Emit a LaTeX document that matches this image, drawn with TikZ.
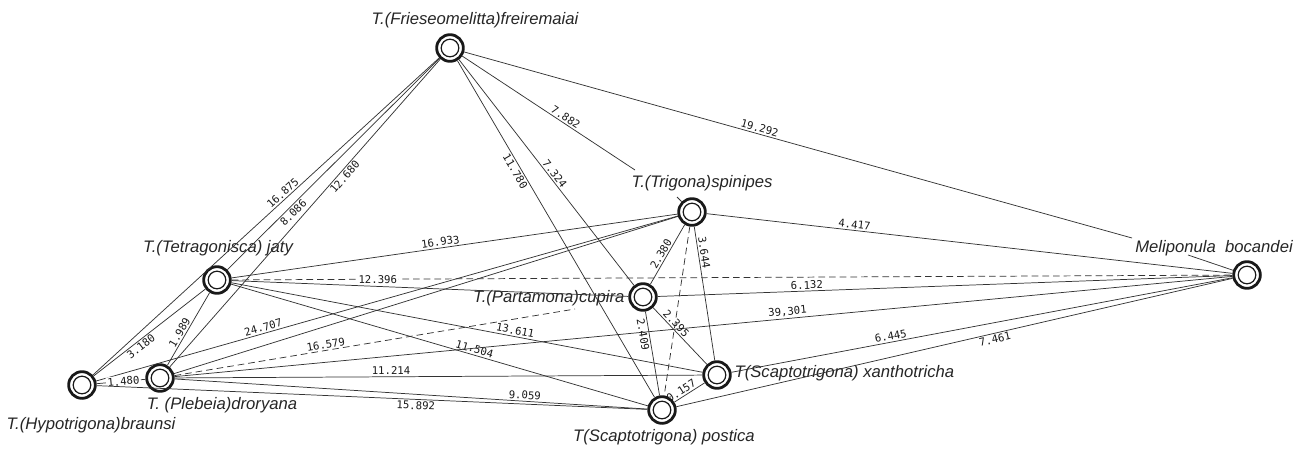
\documentclass[tikz,border=0pt]{standalone}
\usepackage{fontspec}
\setmainfont{Liberation Sans}
\newfontfamily\numfont{DejaVu Sans Mono}
\begin{document}
\begin{tikzpicture}[x=0.75pt,y=-0.75pt,
  sp/.style={circle,draw=black!90,line width=2.1pt,fill=white,inner sep=0pt,minimum size=20pt,
    path picture={\draw[line width=0.9pt,black!90] (path picture bounding box.center) circle (6.6pt);}},
  nm/.style={font=\itshape\fontsize{12.5}{14}\selectfont,inner sep=1pt,text=black!85},
  ln/.style={line width=0.55pt,draw=black!80},
  dl/.style={ln,dash pattern=on 5pt off 3pt},
  nl/.style={font=\numfont\fontsize{8}{9}\selectfont,inner sep=1.2pt,sloped,text=black!90},
  onl/.style={nl,fill=white,inner sep=1pt}]
\useasboundingbox (0,0) rectangle (1307,451);
\fill[white] (0,0) rectangle (1307,451);
% species nodes
\node[sp] (F) at (450,48) {};
\node[sp] (S) at (692,212) {};
\node[sp] (J) at (217,280) {};
\node[sp] (C) at (643,297) {};
\node[sp] (M) at (1247,275) {};
\node[sp] (H) at (82,385) {};
\node[sp] (P) at (160,378) {};
\node[sp] (X) at (717,375) {};
\node[sp] (Q) at (662,410) {};
% names
\node[nm] (Fl) at (475,20) {T.(Frieseomelitta)freiremaiai};
\node[nm] (Sl) at (702,183) {T.(Trigona)spinipes};
\node[nm] (Jl) at (218,248) {T.(Tetragonisca) jaty};
\node[nm,anchor=east] (Cl) at (626,298) {T.(Partamona)cupira};
\node[nm] (Ml) at (1214,248) {Meliponula\ \ bocandei};
\node[nm] (Hl) at (91,425) {T.(Hypotrigona)braunsi};
\node[nm] (Pl) at (222,405) {T. (Plebeia)droryana};
\node[nm,anchor=west] (Xl) at (733,373) {T(Scaptotrigona) xanthotricha};
\node[nm] (Ql) at (664,437) {T(Scaptotrigona) postica};
% free ends
\coordinate (sT) at (635,170);
\coordinate (mT) at (1132,238);
\coordinate (sL) at (677,197);
\coordinate (mL) at (1188,255);
\coordinate (Cd) at (575,309);
% leaders
\draw[ln] (sL) -- (S);
\draw[ln] (mL) -- (M);
% edges from F
\draw[ln] (H) -- node[nl,pos=0.56,above]{16.875} (F);
\draw[ln] (J) -- node[nl,pos=0.29,below]{8.086} (F);
\draw[ln] (P) -- node[nl,pos=0.63,below]{12.680} (F);
\draw[ln] (F) -- node[nl,pos=0.32,below]{11.780} (Q);
\draw[ln] (F) -- node[nl,pos=0.52,above]{7.324} (C);
\draw[ln] (F) -- node[nl,pos=0.58,above]{7.882} (sT);
\draw[ln] (F) -- node[nl,pos=0.44,above]{19.292} (mT);
% edges from S
\draw[ln] (S) -- node[nl,pos=0.28,above]{4.417} (M);
\draw[ln] (J) -- node[nl,pos=0.47,above]{16.933} (S);
\draw[ln] (C) -- node[nl,pos=0.46,above]{2.380} (S);
\draw[ln] (S) -- node[nl,pos=0.2,above]{3.644} (X);
\draw[dl] (S) -- (Q);
\draw[ln] (H) -- node[nl,pos=0.29,above]{24.707} (S);
\draw[ln] (P) -- (S);
% edges from J
\draw[dl] (J) -- node[onl,pos=0.146]{12.396} (M);
\draw[ln] (J) -- (C);
\draw[ln] (J) -- node[nl,pos=0.60,above]{13.611} (X);
\draw[ln] (J) -- node[nl,pos=0.58,above]{11.504} (Q);
\draw[ln] (H) -- node[nl,pos=0.39,below]{3.180} (J);
\draw[ln] (P) -- node[nl,pos=0.41,above]{1.989} (J);
% edges from H, P
\draw[ln] (H) -- node[onl,pos=0.55]{1.480} (P);
\draw[ln] (H) -- node[nl,pos=0.58,below]{15.892} (Q);
\draw[dl] (P) -- node[nl,pos=0.38,above]{16.579} (Cd);
\draw[ln] (P) -- node[nl,pos=0.58,above]{39,301} (M);
\draw[ln] (P) -- node[nl,pos=0.41,above]{11.214} (X);
\draw[ln] (P) -- node[nl,pos=0.74,above]{9.059} (Q);
% edges among C, X, Q, M
\draw[ln] (C) -- node[nl,pos=0.26,above]{6.132} (M);
\draw[ln] (C) -- node[nl,pos=0.35,above]{2.395} (X);
\draw[ln] (C) -- node[nl,pos=0.26,below]{2.409} (Q);
\draw[ln] (Q) -- node[nl,pos=0.33,above]{0.157} (X);
\draw[ln] (X) -- node[nl,pos=0.32,above]{6.445} (M);
\draw[ln] (Q) -- node[nl,pos=0.57,below]{7.461} (M);
\end{tikzpicture}
\end{document}
